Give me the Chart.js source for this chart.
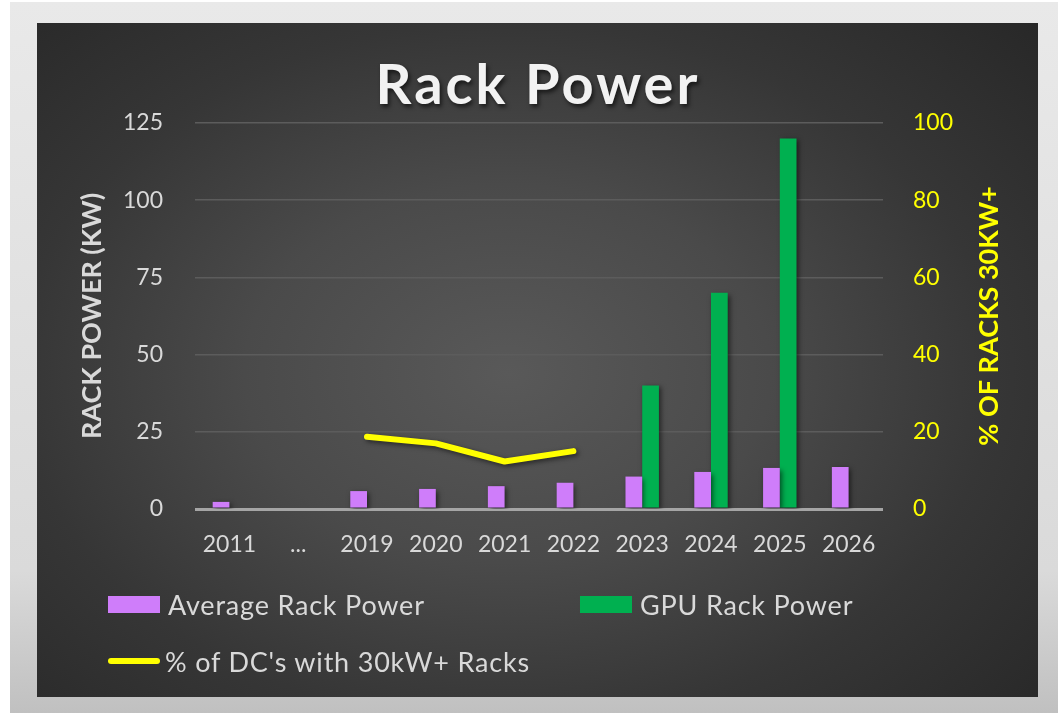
<!DOCTYPE html>
<html>
<head>
<meta charset="utf-8">
<title>Rack Power</title>
<script src="https://cdn.jsdelivr.net/npm/chart.js@4.4.1/dist/chart.umd.min.js"></script>
<style>
  html, body { margin: 0; padding: 0; background: #ffffff; }
  #wrap { position: relative; width: 1058px; height: 713px; overflow: hidden; }
  #frame {
    position: absolute; left: 10px; top: 2px; right: 0; bottom: 0;
    background: linear-gradient(to bottom, #e9e9e9 0%, #dadada 80%, #c0c0c0 100%);
  }
  #panel {
    position: absolute; left: 37px; top: 23px; width: 1001px; height: 674px;
    background: radial-gradient(ellipse 75% 80% at 47% 52%, #595959 0%, #4a4a4a 35%, #363636 65%, #262626 100%);
  }
  #chartRack { position: absolute; left: 0; top: 0; }
  #title {
    position: absolute; left: 0; width: 1076px; top: 50px; text-align: center;
    font-family: Lato, sans-serif; font-weight: bold; font-size: 56px; line-height: 66px;
    letter-spacing: 3px; color: #f2f2f2; text-shadow: 2px 3px 4px rgba(0,0,0,0.6);
  }
  #legend { position: absolute; left: 0; top: 0; width: 1058px; height: 713px; pointer-events: none;
    font-family: Lato, sans-serif; font-size: 27px; letter-spacing: 0.8px; color: #d9d9d9; }
  .item { position: absolute; display: flex; align-items: center; white-space: nowrap; }
  .swatch { width: 52px; height: 17px; margin-right: 8px; }
  .swatch.line { height: 6px; border-radius: 3px; margin-right: 5px; }
</style>
</head>
<body>
<div id="wrap">
  <div id="frame"></div>
  <div id="panel"></div>
  <canvas id="chartRack" width="1058" height="713"></canvas>
  <div id="title">Rack Power</div>
  <div id="legend"></div>
</div>
<script>
// categories and series
var years = ['2011', '...', '2019', '2020', '2021', '2022', '2023', '2024', '2025', '2026'];
var avgRackPower = [2.3, null, 5.8, 6.5, 7.4, 8.5, 10.5, 12, 13.3, 13.6];
var gpuRackPower = [null, null, null, null, null, null, 40, 70, 120, null];
var pctDc30kw = [null, null, 18.7, 17, 12.3, 15, null, null, null, null];

var leftTicks = [0, 25, 50, 75, 100, 125];
var rightTicks = [0, 20, 40, 60, 80, 100];
var rightTitle = '% OF RACKS 30KW+';

Chart.defaults.font.family = 'Lato, sans-serif';

// soft drop shadow under bars and line
var markShadow = {
    id: 'markShadow',
    beforeDatasetsDraw: function (chart) {
        var c = chart.ctx;
        c.save();
        c.shadowColor = 'rgba(0,0,0,0.55)';
        c.shadowBlur = 5;
        c.shadowOffsetX = 2;
        c.shadowOffsetY = 2;
    },
    afterDatasetsDraw: function (chart) {
        chart.ctx.restore();
    }
};

// right axis title, reading bottom to top like the left one
var rightAxisTitle = {
    id: 'rightAxisTitle',
    afterDraw: function (chart) {
        var c = chart.ctx;
        var area = chart.chartArea;
        c.save();
        c.translate(989, (area.top + area.bottom) / 2);
        c.rotate(-Math.PI / 2);
        c.fillStyle = '#ffff00';
        c.font = 'bold 27px Lato, sans-serif';
        c.textAlign = 'center';
        c.textBaseline = 'middle';
        c.fillText(rightTitle, 0, 0);
        c.restore();
    }
};

var ctx = document.getElementById('chartRack').getContext('2d');
var chart = new Chart(ctx, {
    type: 'bar',
    data: {
        labels: years,
        datasets: [{
            type: 'line',
            label: "% of DC's with 30kW+ Racks",
            data: pctDc30kw,
            yAxisID: 'y1',
            borderColor: '#ffff00',
            backgroundColor: '#ffff00',
            borderWidth: 6,
            borderCapStyle: 'round',
            borderJoinStyle: 'round',
            pointRadius: 0,
            spanGaps: false,
            order: 0
        }, {
            label: 'Average Rack Power',
            data: avgRackPower,
            yAxisID: 'y',
            backgroundColor: '#cf7dfa',
            order: 1
        }, {
            label: 'GPU Rack Power',
            data: gpuRackPower,
            yAxisID: 'y',
            backgroundColor: '#00b050',
            order: 1
        }]
    },
    options: {
        responsive: false,
        animation: false,
        categoryPercentage: 0.486,
        barPercentage: 1.0,
        layout: { padding: { top: 123, left: 76, right: 55, bottom: 144 } },
        plugins: {
            legend: { display: false },
            tooltip: { enabled: false },
            title: { display: false }
        },
        scales: {
            x: {
                grid: { display: false },
                border: { display: false },
                ticks: { color: '#d9d9d9', font: { size: 23 }, padding: 14, maxRotation: 0, autoSkip: false },
                afterFit: function (scale) { scale.height = 60; }
            },
            y: {
                position: 'left',
                min: 0,
                max: 125,
                afterBuildTicks: function (scale) {
                    scale.ticks = leftTicks.map(function (v) { return { value: v }; });
                },
                grid: {
                    drawTicks: false,
                    color: function (c) { return c.tick && c.tick.value === 0 ? '#a5a5a5' : '#5c5c5c'; },
                    lineWidth: function (c) { return c.tick && c.tick.value === 0 ? 3 : 1.5; }
                },
                border: { display: false },
                ticks: { color: '#d9d9d9', font: { size: 23 }, padding: 32 },
                title: {
                    display: true,
                    text: 'RACK POWER (KW)',
                    color: '#d9d9d9',
                    font: { size: 27, weight: 'bold' },
                    padding: 0
                },
                afterFit: function (scale) { scale.width = 119; }
            },
            y1: {
                position: 'right',
                min: 0,
                max: 100,
                afterBuildTicks: function (scale) {
                    scale.ticks = rightTicks.map(function (v) { return { value: v }; });
                },
                grid: { display: false, drawTicks: false },
                border: { display: false },
                ticks: { color: '#ffff00', font: { size: 23 }, padding: 30 },
                afterFit: function (scale) { scale.width = 120; }
            }
        }
    },
    plugins: [markShadow, rightAxisTitle]
});

// legend laid out in two columns below the chart
var legendSpots = [
    { ds: 1, left: 108, top: 604 },
    { ds: 2, left: 580, top: 604 },
    { ds: 0, left: 108, top: 661 }
];
var legendBox = document.getElementById('legend');
legendSpots.forEach(function (spot) {
    var ds = chart.data.datasets[spot.ds];
    var item = document.createElement('div');
    item.className = 'item';
    item.style.left = spot.left + 'px';
    item.style.top = (spot.top - 16) + 'px';
    item.style.height = '32px';
    var sw = document.createElement('span');
    sw.className = ds.type === 'line' ? 'swatch line' : 'swatch';
    sw.style.background = ds.type === 'line' ? ds.borderColor : ds.backgroundColor;
    var txt = document.createElement('span');
    txt.textContent = ds.label;
    item.appendChild(sw);
    item.appendChild(txt);
    legendBox.appendChild(item);
});
</script>
</body>
</html>
